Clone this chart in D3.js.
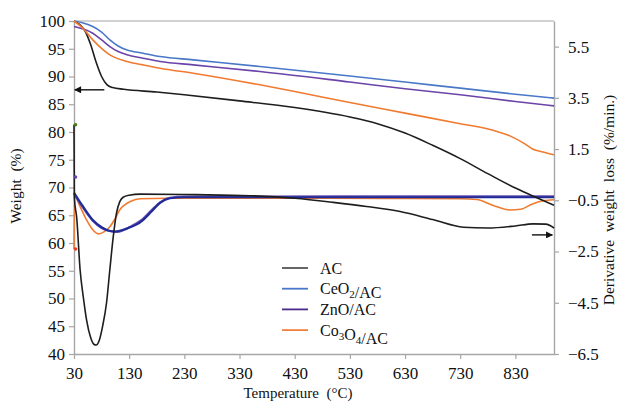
<!DOCTYPE html>
<html><head><meta charset="utf-8">
<script src="https://cdn.jsdelivr.net/npm/d3@7"></script>
<style>
body{margin:0;background:#fff}
text{font-family:"Liberation Serif","Times New Roman",serif;fill:#111}
</style>
</head><body>
<svg id="c" width="618" height="403"></svg>
<script>
// ---- data ----
const xTicks = [30,130,230,330,430,530,630,730,830];
const leftTicks = [40,45,50,55,60,65,70,75,80,85,90,95,100];
const rightTicks = [-6.5,-4.5,-2.5,-0.5,1.5,3.5,5.5];
const seriesNames = ["AC","CeO2/AC","ZnO/AC","Co3O4/AC"];
const seriesColors = ["#1e1e1e","#4a78c8","#6a44a8","#f07a30"];
const legendColors = ["#555555","#4a78c8","#4a2a8a","#f08040"];

// weight (%) curves: [temperature, weight]
const weightAC = [[30,100],[40,99.4],[50,98.2],[60,95.8],[70,92.6],[80,90.0],[90,88.5],[100,88.0],[120,87.7],[180,87.2],[230,86.7],[330,85.6],[430,84.4],[530,82.7],[580,81.5],[630,79.8],[680,77.6],[730,75.2],[780,72.5],[830,69.9],[870,68.1],[900,66.8]];
const weightCeO2 = [[30,100],[45,99.7],[64,99.0],[80,98.0],[95,96.6],[110,95.5],[125,94.8],[155,94.2],[186,93.6],[246,93.0],[367,91.8],[530,90.1],[630,89.0],[730,87.9],[830,86.8],[900,86.1]];
const weightZnO = [[30,99.0],[45,98.6],[64,97.8],[80,96.6],[95,95.4],[110,94.5],[126,93.9],[155,93.3],[186,92.7],[246,92.1],[367,90.9],[530,89.0],[630,87.8],[730,86.7],[830,85.5],[900,84.7]];
const weightCo3O4 = [[30,100],[45,98.8],[64,96.6],[83,94.8],[95,93.9],[126,92.7],[155,92.1],[186,91.5],[246,90.6],[367,88.5],[430,87.3],[530,85.3],[630,83.4],[730,81.5],[790,80.3],[820,79.3],[845,78.0],[862,76.9],[880,76.4],[900,75.9]];

// derivative weight loss (%/min): [temperature, value]
const derivAC = [[30,2.45],[30.6,-0.4],[35,-1.2],[41,-3.2],[47,-4.3],[53,-5.2],[60,-5.85],[66,-6.12],[70,-6.15],[76,-5.95],[82,-5.4],[89,-4.5],[95,-3.2],[101,-1.95],[107,-1.0],[113,-0.55],[119,-0.38],[130,-0.3],[150,-0.26],[250,-0.28],[350,-0.32],[430,-0.42],[500,-0.58],[560,-0.74],[621,-0.94],[680,-1.25],[736,-1.55],[780,-1.58],[830,-1.5],[862,-1.42],[885,-1.43],[900,-1.58]];
const derivCeO2 = [[30,-0.2],[45,-0.7],[64,-1.27],[80,-1.55],[95,-1.7],[104,-1.72],[115,-1.68],[130,-1.56],[143,-1.45],[155,-1.27],[170,-0.95],[186,-0.6],[204,-0.42],[230,-0.38],[500,-0.38],[900,-0.38]];
const derivZnO = [[30,-0.25],[45,-0.75],[64,-1.3],[80,-1.58],[95,-1.7],[108,-1.73],[120,-1.66],[135,-1.5],[155,-1.22],[170,-0.9],[186,-0.58],[204,-0.4],[230,-0.36],[500,-0.35],[900,-0.35]];
const derivCo3O4 = [[30,-2.4],[30.6,-0.3],[40,-0.7],[53,-1.27],[63,-1.62],[74,-1.81],[85,-1.72],[95,-1.53],[105,-1.2],[113,-0.87],[122,-0.68],[132,-0.55],[150,-0.44],[200,-0.42],[400,-0.42],[600,-0.43],[730,-0.44],[760,-0.47],[790,-0.7],[820,-0.88],[840,-0.85],[860,-0.65],[880,-0.52],[900,-0.48]];
const derivStartMarkers = [[30,2.45,"#4a7a20"],[30,0.41,"#6a44a8"],[30,-2.4,"#e84020"]];

// annotation arrows: [fromT, toT, value]
const arrowWeight = [85, 31.5, 87.6];
const arrowDeriv = [860, 897, -1.85];

// ---- chart ----
const svg = d3.select("#c");
const x = d3.scaleLinear().domain([30,900]).range([74,554]);
const yL = d3.scaleLinear().domain([40,100]).range([354,21]);
const yR = d3.scaleLinear().domain([-6.5,6.5]).range([354,21]);
const axisColor = "#a6a6a6";

// top border
svg.append("line").attr("x1",x(30)).attr("x2",x(900)).attr("y1",yL(100)).attr("y2",yL(100))
  .attr("stroke",axisColor).attr("stroke-width",1.2);

function styleAxis(g){
  g.selectAll(".domain").attr("stroke",axisColor).attr("stroke-width",1.4);
  g.selectAll(".tick line").attr("stroke",axisColor).attr("stroke-width",1.2);
  g.selectAll(".tick text").attr("font-size",17).attr("fill","#111")
    .attr("font-family","Liberation Serif, Times New Roman, serif");
}
const gx = svg.append("g").attr("transform",`translate(0,${yL(40)})`)
  .call(d3.axisBottom(x).tickValues(xTicks).tickSize(5).tickSizeOuter(0).tickPadding(8).tickFormat(d3.format("d")));
styleAxis(gx);
const gl = svg.append("g").attr("transform",`translate(${x(30)},0)`)
  .call(d3.axisLeft(yL).tickValues(leftTicks).tickSize(5).tickSizeOuter(0).tickPadding(4).tickFormat(d3.format("d")));
styleAxis(gl);
const gr = svg.append("g").attr("transform",`translate(${x(900)},0)`)
  .call(d3.axisRight(yR).tickValues(rightTicks).tickSize(5).tickSizeOuter(0).tickPadding(9).tickFormat(d3.format(".1f")));
styleAxis(gr);

// axis titles
svg.append("text").attr("x",298).attr("y",398).attr("text-anchor","middle")
  .attr("font-size",15).style("white-space","pre").text("Temperature  (°C)");
svg.append("text").attr("transform","translate(21,186) rotate(-90)").attr("text-anchor","middle")
  .attr("font-size",15.5).style("white-space","pre").text("Weight  (%)");
svg.append("text").attr("transform","translate(614,200) rotate(-90)").attr("text-anchor","middle")
  .attr("font-size",15.5).style("white-space","pre").text("Derivative  weight  loss  (%/min.)");

const lineL = d3.line().x(d=>x(d[0])).y(d=>yL(d[1])).curve(d3.curveMonotoneX);
const lineR = d3.line().x(d=>x(d[0])).y(d=>yR(d[1])).curve(d3.curveMonotoneX);

const plot = svg.append("g");
// derivative curves
plot.append("path").datum(derivCo3O4).attr("d",lineR).attr("fill","none").attr("stroke",seriesColors[3]).attr("stroke-width",1.6);
plot.append("path").datum(derivZnO).attr("d",lineR).attr("fill","none").attr("stroke","#6a50b0").attr("stroke-width",2.2);
plot.append("path").datum(derivCeO2).attr("d",lineR).attr("fill","none").attr("stroke","#1f2c98").attr("stroke-width",2.2);
plot.append("path").datum(derivAC).attr("d",lineR).attr("fill","none").attr("stroke",seriesColors[0]).attr("stroke-width",1.6);
plot.selectAll("circle.m").data(derivStartMarkers).join("circle").attr("class","m")
  .attr("cx",d=>x(d[0])+1.5).attr("cy",d=>yR(d[1])).attr("r",1.8).attr("fill",d=>d[2]);

// weight curves
[[weightAC,0],[weightCeO2,1],[weightZnO,2],[weightCo3O4,3]].forEach(([data,i])=>{
  plot.append("path").datum(data).attr("d",lineL).attr("fill","none")
    .attr("stroke",seriesColors[i]).attr("stroke-width",1.6);
});

// arrows
const defs = svg.append("defs");
defs.append("marker").attr("id","ah").attr("viewBox","0 0 10 10").attr("refX",9).attr("refY",5)
  .attr("markerWidth",9).attr("markerHeight",7).attr("markerUnits","userSpaceOnUse").attr("orient","auto")
  .append("path").attr("d","M0,0 L10,5 L0,10 z").attr("fill","#111");
svg.append("line").attr("x1",x(arrowWeight[0])).attr("x2",x(arrowWeight[1]))
  .attr("y1",yL(arrowWeight[2])).attr("y2",yL(arrowWeight[2]))
  .attr("stroke","#111").attr("stroke-width",1.4).attr("marker-end","url(#ah)");
svg.append("line").attr("x1",x(arrowDeriv[0])).attr("x2",x(arrowDeriv[1]))
  .attr("y1",yR(arrowDeriv[2])).attr("y2",yR(arrowDeriv[2]))
  .attr("stroke","#111").attr("stroke-width",1.4).attr("marker-end","url(#ah)");

// legend
const leg = svg.append("g").attr("transform","translate(282,268)");
seriesNames.forEach((name,i)=>{
  const g = leg.append("g").attr("transform",`translate(0,${i*20.7})`);
  g.append("line").attr("x1",0).attr("x2",26).attr("y1",0).attr("y2",0)
    .attr("stroke",legendColors[i]).attr("stroke-width",1.8);
  const t = g.append("text").attr("x",38).attr("y",5.5).attr("font-size",16);
  const parts = name.match(/[A-Za-z\/]+|\d+/g);
  parts.forEach(p=>{
    if(/^\d+$/.test(p)){
      t.append("tspan").attr("font-size",11).attr("dy",4).text(p);
      t.append("tspan").attr("dy",-4).text("");
    } else {
      t.append("tspan").text(p);
    }
  });
});
</script>
</body></html>
